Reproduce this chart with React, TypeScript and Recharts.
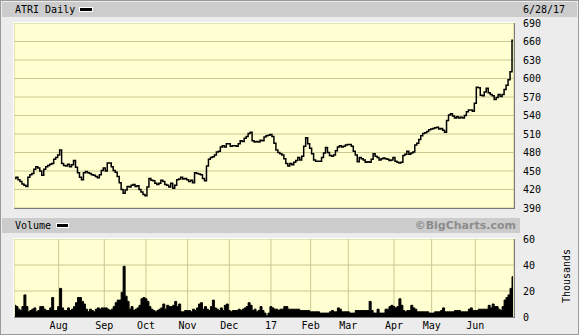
import { ComposedChart, Line, Area, XAxis, YAxis, CartesianGrid } from 'recharts'

// daily closes, 6/29/16 .. 6/28/17
const closes = [
  438, 440, 436, 433, 429, 427, 425, 440, 444, 446,
  453, 457, 455, 450, 443, 453, 457, 459, 461, 462,
  469, 472, 476, 484, 462, 459, 458, 461, 457, 460,
  467, 456, 447, 440, 436, 447, 449, 447, 446, 444,
  443, 441, 439, 444, 451, 455, 450, 463, 463, 457,
  451, 448, 441, 431, 420, 414, 419, 425, 424, 427,
  428, 425, 426, 420, 416, 412, 410, 424, 438, 435,
  434, 430, 428, 430, 435, 433, 428, 427, 424, 430,
  422, 427, 436, 437, 440, 437, 438, 436, 433, 435,
  431, 447, 446, 445, 444, 438, 434, 458, 469, 472,
  473, 476, 481, 482, 489, 491, 489, 494, 494, 490,
  491, 491, 490, 494, 499, 498, 503, 506, 511, 513,
  499, 497, 498, 497, 500, 499, 505, 507, 508, 509,
  506, 495, 484, 480, 478, 476, 470, 462, 458, 462,
  460, 464, 467, 472, 468, 474, 490, 504, 494, 487,
  478, 468, 466, 466, 466, 472, 479, 488, 480, 475,
  474, 476, 483, 489, 491, 489, 490, 492, 493, 493,
  490, 482, 476, 465, 472, 470, 468, 464, 465, 464,
  469, 478, 474, 472, 468, 470, 471, 470, 469, 467,
  468, 472, 466, 464, 463, 464, 475, 477, 482, 477,
  479, 481, 492, 495, 501, 507, 511, 512, 514, 517,
  518, 519, 520, 521, 518, 519, 516, 513, 532, 541,
  543, 539, 536, 538, 536, 537, 536, 540, 546, 549,
  549, 547, 560, 586, 585, 573, 572, 578, 584, 577,
  574, 572, 566, 569, 574, 571, 574, 582, 589, 598,
  611, 662,
]

// daily volume, thousands
const volumes = [
  9, 8, 6, 5, 8, 17, 8, 4, 5, 6,
  7, 4, 5, 8, 8, 6, 5, 5, 7, 15,
  5, 5, 8, 22, 7, 5, 5, 7, 5, 6,
  8, 11, 15, 15, 12, 10, 6, 4, 6, 5,
  4, 6, 7, 6, 7, 7, 7, 6, 5, 6,
  8, 11, 13, 13, 19, 39, 16, 12, 6, 8,
  5, 6, 7, 9, 14, 15, 14, 12, 8, 6,
  5, 4, 5, 6, 7, 10, 6, 9, 8, 8,
  9, 12, 8, 10, 4, 4, 5, 5, 5, 4,
  6, 5, 7, 10, 11, 6, 8, 6, 5, 8,
  13, 7, 6, 5, 7, 5, 9, 10, 5, 4,
  5, 5, 5, 6, 5, 6, 7, 8, 11, 9,
  5, 6, 4, 5, 8, 5, 3, 1, 3, 8,
  7, 6, 6, 5, 6, 6, 8, 8, 6, 6,
  6, 6, 6, 6, 5, 5, 5, 5, 5, 4,
  4, 4, 4, 4, 3, 3, 3, 3, 3, 4,
  5, 4, 4, 7, 6, 4, 4, 4, 4, 3,
  3, 3, 5, 5, 5, 5, 5, 5, 5, 12,
  5, 3, 3, 6, 3, 3, 3, 6, 6, 8,
  9, 8, 7, 8, 14, 9, 5, 4, 5, 5,
  9, 7, 6, 4, 4, 4, 4, 4, 4, 3,
  3, 3, 4, 4, 4, 5, 7, 4, 4, 4,
  4, 4, 5, 5, 5, 4, 4, 4, 4, 6,
  7, 5, 5, 5, 6, 6, 6, 6, 6, 9,
  7, 10, 8, 8, 6, 5, 8, 13, 15, 17,
  22, 31,
]

// first trading day of each month (index into closes)
const monthTicks = [22, 45, 66, 87, 108, 129, 149, 168, 191, 210, 232]
const monthLabels = ['Aug', 'Sep', 'Oct', 'Nov', 'Dec', '17', 'Feb', 'Mar', 'Apr', 'May', 'Jun']
const priceTicks = [390, 420, 450, 480, 510, 540, 570, 600, 630, 660, 690]
const volumeTicks = [0, 20, 40, 60]

const rows = closes.map((c, i) => ({ i, close: c, volume: volumes[i] }))

const mono = 'DejaVu Sans Mono'
const tickStyle = { fill: '#000', fontSize: 10, fontFamily: mono }
const xDomain = [-0.5, closes.length - 0.5]

const box = (left: number, top: number, width: number, height: number, bg: string) => (
  <div style={{ position: 'absolute', left, top, width, height, background: bg }} />
)

export default function App() {
  return (
    <div style={{ position: 'absolute', left: 0, top: 0, width: 579, height: 335, background: '#ececec', overflow: 'hidden', fontFamily: mono }}>
      {/* outer frame + header bands */}
      {box(0, 0, 579, 1, '#9a9a9a')}
      {box(0, 0, 1, 335, '#9a9a9a')}
      {box(578, 0, 1, 335, '#9a9a9a')}
      {box(0, 334, 579, 1, '#9a9a9a')}
      {box(2, 2, 575, 15, '#cccccc')}
      {box(2, 218, 518, 15, '#cccccc')}

      <div style={{ position: 'absolute', left: 15, top: 3, fontSize: 10, lineHeight: '13px' }}>ATRI Daily</div>
      <div style={{ position: 'absolute', left: 79, top: 7, width: 12, height: 3, background: '#000', border: '1px solid #fff' }} />
      <div style={{ position: 'absolute', left: 523, top: 3, fontSize: 10, lineHeight: '13px' }}>6/28/17</div>

      <div style={{ position: 'absolute', left: 15, top: 219, fontSize: 10, lineHeight: '13px' }}>Volume</div>
      <div style={{ position: 'absolute', left: 56, top: 223, width: 11, height: 3, background: '#000', border: '1px solid #fff' }} />
      <div style={{ position: 'absolute', right: 579 - 516, top: 219, fontSize: 11, lineHeight: '13px', fontWeight: 'bold', color: '#8c8c8c', fontFamily: 'DejaVu Sans' }}>©BigCharts.com</div>

      <div style={{ position: 'absolute', left: 566, top: 276, fontSize: 10, transform: 'translate(-50%, -50%) rotate(-90deg)', whiteSpace: 'nowrap' }}>Thousands</div>

      <div style={{ position: 'absolute', left: 0, top: 0 }}>
        <ComposedChart width={579} height={215} data={rows} margin={{ top: 23, right: 0, bottom: 0, left: 14 }}>
          <CartesianGrid stroke="#c8c890" fill="#ffffd2" fillOpacity={1} />
          <XAxis type="number" dataKey="i" domain={xDomain} ticks={monthTicks} tick={false} axisLine={false} tickLine={false} height={7} allowDataOverflow />
          <YAxis orientation="right" domain={[390, 690]} ticks={priceTicks} interval={0} width={65} axisLine={false} tickLine={false} tickSize={0} tickMargin={9} tick={tickStyle} allowDataOverflow />
          <Line type="step" dataKey="close" stroke="#000" strokeWidth={1.5} dot={false} isAnimationActive={false} />
        </ComposedChart>
      </div>

      <div style={{ position: 'absolute', left: 0, top: 233 }}>
        <ComposedChart width={579} height={102} data={rows} margin={{ top: 6, right: 0, bottom: 0, left: 14 }}>
          <CartesianGrid stroke="#c8c890" fill="#ffffd2" fillOpacity={1} />
          <XAxis type="number" dataKey="i" domain={xDomain} ticks={monthTicks} interval={0} height={18} axisLine={false} tickLine={false} tickSize={0} tickMargin={5} tick={tickStyle} tickFormatter={(v: number) => monthLabels[monthTicks.indexOf(v)]} allowDataOverflow />
          <YAxis orientation="right" domain={[0, 60]} ticks={volumeTicks} interval={0} width={65} axisLine={false} tickLine={false} tickSize={0} tickMargin={9} tick={tickStyle} />
          <Area type="step" dataKey="volume" stroke="#000" strokeWidth={1} fill="#000" fillOpacity={1} isAnimationActive={false} />
        </ComposedChart>
      </div>

      {/* plot frames: light top/left, dark bottom/right */}
      {box(13, 22, 502, 1, '#fff')}
      {box(13, 22, 1, 187, '#fff')}
      {box(14, 208, 501, 1, '#7a7a7a')}
      {box(514, 23, 1, 186, '#7a7a7a')}
      {box(13, 238, 502, 1, '#fff')}
      {box(13, 238, 1, 80, '#fff')}
      {box(14, 317, 501, 1, '#7a7a7a')}
      {box(514, 239, 1, 79, '#7a7a7a')}
    </div>
  )
}
